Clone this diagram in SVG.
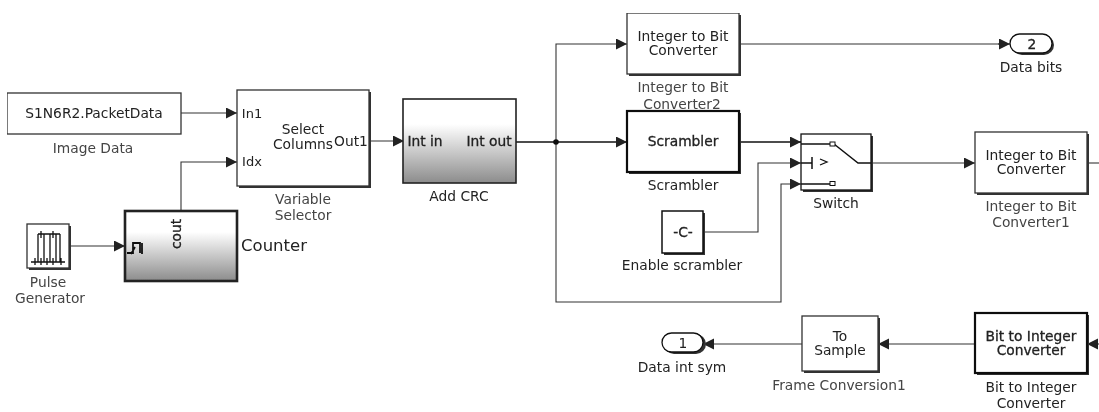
<svg xmlns="http://www.w3.org/2000/svg" width="1099" height="412" viewBox="0 0 1099 412">
<style>
text{font-family:"DejaVu Sans","Liberation Sans",sans-serif;font-size:13.8px;fill:#222;text-anchor:middle}
.l{fill:#444}
.d{stroke:#222;stroke-width:.3px}
.s{fill:#333;stroke:none}
.b{fill:#fff;stroke:#333;stroke-width:1.3}
.k{fill:#fff;stroke:#111;stroke-width:2.2}
.g{fill:url(#grad);stroke:#222;stroke-width:1.6}
.w{fill:none;stroke:#333;stroke-width:1.1;marker-end:url(#a)}
.t{fill:none;stroke:#111;stroke-width:1.5;marker-end:url(#a)}
.n{fill:none;stroke:#333;stroke-width:1.1}
.i{fill:none;stroke:#111;stroke-width:1.3}
</style>
<defs>
<linearGradient id="grad" x1="0" y1="0" x2="0" y2="1">
<stop offset="0" stop-color="#fff"/><stop offset="0.3" stop-color="#fff"/><stop offset="1" stop-color="#8c8c8c"/>
</linearGradient>
<marker id="a" markerUnits="userSpaceOnUse" markerWidth="12" markerHeight="12" refX="11" refY="5.500" orient="auto">
<path d="M0,0 L11,5.500 L0,11 Z" fill="#222"/>
</marker>
<filter id="soft" x="0" y="0" width="100%" height="100%"><feGaussianBlur stdDeviation="0.35"/></filter>
</defs>
<g filter="url(#soft)">
<g id="connectors">
<path class="w" d="M181,113H237"/>
<path class="w" d="M181,211V162H237"/>
<path class="w" d="M69,246H125"/>
<path class="w" d="M369,141H404"/>
<path class="t" d="M516,142H627"/>
<path class="w" d="M556,142V44H627"/>
<path class="n" d="M739,44H1000"/>
<path class="w" d="M998,44H1010"/>
<path class="t" d="M739,142H801"/>
<path class="w" d="M703,232H758V163H801"/>
<path class="w" d="M556,142V302H781V184H801"/>
<path class="w" d="M871,163H975"/>
<path class="n" d="M1087,163H1099"/>
<path class="w" d="M1099,344H1087"/>
<path class="w" d="M975,344H878"/>
<path class="w" d="M802,344H703"/>
<circle cx="556" cy="142" r="2.800" fill="#111"/>
</g>
<g id="image-data">
<rect class="b" x="7" y="93" width="174" height="41"/>
<text x="94" y="118">S1N6R2.PacketData</text>
<text class="l" x="93" y="153">Image Data</text>
</g>
<g id="variable-selector">
<rect class="s" x="239" y="92" width="132" height="96"/>
<rect class="b" x="237" y="90" width="132" height="96"/>
<text x="252" y="118" style="font-size:13px">In1</text>
<text x="252" y="166" style="font-size:13px">Idx</text>
<text x="303" y="134">Select</text>
<text x="303" y="149">Columns</text>
<text x="351" y="146">Out1</text>
<text class="l" x="303" y="204">Variable</text>
<text class="l" x="303" y="220">Selector</text>
</g>
<g id="pulse-generator">
<rect class="s" x="29" y="226" width="42" height="44"/>
<rect class="b" x="27" y="224" width="42" height="44"/>
<path class="i" d="M31,262H65M38,234H60M38,234V262M44,234V262M50,234V262M56,234V262M60,234V262M41,231V238M53,231V238M35,258V265M41,258V265M47,258V265M53,258V265M61,258V265"/>
<text class="l" x="48" y="287">Pulse</text>
<text class="l" x="50" y="303">Generator</text>
</g>
<g id="counter">
<rect class="g" x="125" y="211" width="112" height="70" style="stroke-width:2.600;stroke:#222"/>
<path class="i" d="M127,253H133V243H140V253M135,247L131,254M142,243V254" style="stroke-width:1.800"/>
<text transform="translate(181,229) rotate(-90)" class="d" y="0" x="-5">cout</text>
<text x="274" y="251" style="font-size:16.500px">Counter</text>
</g>
<g id="add-crc">
<rect class="g" x="403" y="99" width="113" height="84"/>
<text x="425" y="146" class="d">Int in</text>
<text x="489" y="146" class="d">Int out</text>
<text x="459" y="201">Add CRC</text>
</g>
<g id="integer-to-bit-2">
<rect class="s" x="629" y="15" width="112" height="61"/>
<rect class="b" x="627" y="13" width="112" height="61"/>
<text x="683" y="41">Integer to Bit</text>
<text x="683" y="55">Converter</text>
<text class="l" x="683" y="92">Integer to Bit</text>
<text class="l" x="682" y="109">Converter2</text>
</g>
<g id="scrambler">
<rect class="s" x="629" y="113" width="112" height="61"/>
<rect class="k" x="627" y="111" width="112" height="61"/>
<text x="683" y="146" class="d">Scrambler</text>
<text x="683" y="190">Scrambler</text>
</g>
<g id="enable-scrambler">
<rect class="s" x="664" y="213" width="41" height="42"/>
<rect class="k" x="662" y="211" width="41" height="42" style="stroke-width:1.500"/>
<text x="683" y="237" class="d">-C-</text>
<text x="682" y="270">Enable scrambler</text>
</g>
<g id="switch">
<rect class="s" x="803" y="136" width="70" height="56"/>
<rect class="b" x="801" y="134" width="70" height="56" style="stroke:#111"/>
<path class="i" d="M801,144H830M834,144L858,163H871M801,184H830M801,163H812M812,157V169" style="stroke-width:1.500"/>
<path class="i" d="M820,159L827,162L820,165"/>
<rect x="830" y="142" width="5" height="4" fill="#fff" stroke="#111"/>
<rect x="830" y="181.500" width="5" height="4" fill="#fff" stroke="#111"/>
<text x="836" y="208">Switch</text>
</g>
<g id="integer-to-bit-1">
<rect class="s" x="977" y="134" width="112" height="61"/>
<rect class="b" x="975" y="132" width="112" height="61"/>
<text x="1031" y="160">Integer to Bit</text>
<text x="1031" y="174">Converter</text>
<text class="l" x="1031" y="211">Integer to Bit</text>
<text class="l" x="1031" y="227">Converter1</text>
</g>
<g id="data-bits">
<rect class="s" x="1012" y="35" width="42" height="20" rx="10"/>
<rect x="1010" y="34" width="42" height="19" rx="9.500" fill="#fff" stroke="#111" stroke-width="1.300"/>
<text x="1032" y="49" class="d">2</text>
<text x="1031" y="72">Data bits</text>
</g>
<g id="data-int-sym">
<rect class="s" x="664" y="334" width="42" height="20" rx="10"/>
<rect x="662" y="333" width="41" height="19" rx="9.500" fill="#fff" stroke="#111" stroke-width="1.300"/>
<text x="683" y="348">1</text>
<text x="682" y="372">Data int sym</text>
</g>
<g id="frame-conversion">
<rect class="s" x="804" y="318" width="76" height="55"/>
<rect class="b" x="802" y="316" width="76" height="55"/>
<text x="840" y="341">To</text>
<text x="840" y="355">Sample</text>
<text class="l" x="839" y="390">Frame Conversion1</text>
</g>
<g id="bit-to-integer">
<rect class="s" x="977" y="315" width="112" height="60"/>
<rect class="k" x="975" y="313" width="112" height="60"/>
<text x="1031" y="341" class="d">Bit to Integer</text>
<text x="1031" y="355" class="d">Converter</text>
<text x="1031" y="392">Bit to Integer</text>
<text x="1031" y="408">Converter</text>
</g>
</g>
</svg>
